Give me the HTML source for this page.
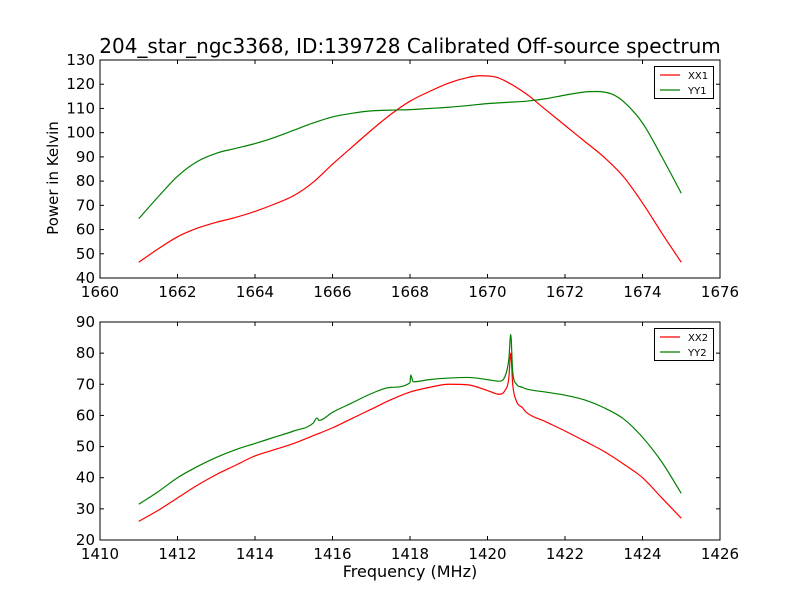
<!DOCTYPE html>
<html><head><meta charset="utf-8"><style>
body{margin:0;background:#fff}
svg{font-family:"DejaVu Sans","Liberation Sans",sans-serif}
</style></head><body>
<svg id="c" width="800" height="600" viewBox="0 0 800 600">
<rect width="800" height="600" fill="#fff"/>
<text x="410" y="53" font-size="20" text-anchor="middle">204_star_ngc3368, ID:139728 Calibrated Off-source spectrum</text>
<g id="top"></g>
<g id="bot"></g>
<text x="58" y="178" font-size="15" text-anchor="middle" transform="rotate(-90 58 178)">Power in Kelvin</text>
<text x="410" y="577" font-size="16" text-anchor="middle">Frequency (MHz)</text>
</svg>
<script>
const topX=[1661,1661.5,1662,1662.5,1663,1663.5,1664,1664.5,1665,1665.5,1666,1666.5,1667,1667.5,1668,1668.5,1669,1669.5,1669.8,1670.2,1670.5,1671,1671.5,1672,1672.5,1673,1673.5,1674,1674.5,1675];
const xx1=[46.5,52,57,60.5,63,65,67.5,70.5,74,79.5,87,94,101,107.5,113,117,120.5,122.8,123.5,123,121,116,109.5,103,96.5,90,82,71,58.5,46.5];
const topX2=[1661,1661.5,1662,1662.5,1663,1663.5,1664,1664.5,1665,1665.5,1666,1666.5,1667,1667.5,1668,1668.5,1669,1669.5,1670,1670.5,1671,1671.5,1672,1672.5,1672.8,1673.2,1673.5,1674,1674.5,1675];
const yy1=[64.5,73.5,82,88,91.5,93.5,95.5,98,101,104,106.5,108,109,109.3,109.5,110,110.5,111.2,112,112.5,113,114,115.5,116.8,117,116,113,104,90,75];
const botX=[1411,1411.5,1412,1412.5,1413,1413.5,1414,1414.5,1415,1415.5,1416,1416.5,1417,1417.5,1418,1418.5,1419,1419.5,1420,1420.3,1420.45,1420.55,1420.6,1420.65,1420.75,1420.9,1421,1421.5,1422,1422.5,1423,1423.5,1424,1424.5,1425];
const xx2=[26,29.5,33.5,37.5,41,44,47,49,51,53.5,56,59,62,65,67.5,69,70,69.8,68,66.8,68,72,80,70,64.5,62.5,61,58,55,51.8,48.5,44.5,40,33.5,27];
const botY2X=[1411,1411.5,1412,1412.5,1413,1413.5,1414,1414.5,1415,1415.5,1415.6,1415.65,1416,1416.5,1417,1417.5,1418,1418.02,1418.08,1418.5,1419,1419.5,1420,1420.3,1420.45,1420.55,1420.6,1420.65,1420.75,1420.9,1421,1421.5,1422,1422.5,1423,1423.5,1424,1424.5,1425];
const yy2=[31.5,35.5,40,43.5,46.5,49,51,53,55,57.5,59.2,58.4,61,64,67,69,70.5,73,70.8,71.5,72,72.2,71.5,71,72.5,78,86,74,70,69,68.5,67.5,66.5,65,62.5,59,53,45,35];
const topXTicks=[1660,1662,1664,1666,1668,1670,1672,1674,1676];
const topYTicks=[40,50,60,70,80,90,100,110,120,130];
const botXTicks=[1410,1412,1414,1416,1418,1420,1422,1424,1426];
const botYTicks=[20,30,40,50,60,70,80,90];
const NS="http://www.w3.org/2000/svg";
function mk(p,t,a){const e=document.createElementNS(NS,t);for(const k in a)e.setAttribute(k,a[k]);p.appendChild(e);return e;}
function monoPath(P){
  const n=P.length,d=[],m=[];
  for(let i=0;i<n-1;i++)d.push((P[i+1][1]-P[i][1])/(P[i+1][0]-P[i][0]));
  m[0]=d[0];m[n-1]=d[n-2];
  for(let i=1;i<n-1;i++){m[i]=(d[i-1]*d[i]<=0)?0:(d[i-1]+d[i])/2;}
  for(let i=0;i<n-1;i++){if(d[i]===0){m[i]=0;m[i+1]=0;continue;}
    const a=m[i]/d[i],b=m[i+1]/d[i],s=a*a+b*b;if(s>9){const t=3/Math.sqrt(s);m[i]=t*a*d[i];m[i+1]=t*b*d[i];}}
  let s='M'+P[0][0]+','+P[0][1];
  for(let i=0;i<n-1;i++){const h=(P[i+1][0]-P[i][0])/3;
    s+=' C'+(P[i][0]+h)+','+(P[i][1]+m[i]*h)+' '+(P[i+1][0]-h)+','+(P[i+1][1]-m[i+1]*h)+' '+P[i+1][0]+','+P[i+1][1];}
  return s;
}
function panel(g,y0,y1,xmin,xmax,ymin,ymax,xt,yt,series,labels){
  const L=100,R=720;
  const sx=v=>L+(v-xmin)/(xmax-xmin)*(R-L), sy=v=>y1-(v-ymin)/(ymax-ymin)*(y1-y0);
  series.forEach((s,i)=>{
    const pl=mk(g,'path',{d:monoPath(s.x.map((v,j)=>[sx(v),sy(s.y[j])])),fill:'none',stroke:s.c,'stroke-width':1.2});
    
    
  });
  const fr=mk(g,'rect',{x:L,y:y0,width:R-L,height:y1-y0,fill:'none',stroke:'#000','stroke-width':1});
  
  
  xt.forEach(v=>{const x=sx(v);
    mk(g,'line',{x1:x,x2:x,y1:y1,y2:y1-4,stroke:'#000'});mk(g,'line',{x1:x,x2:x,y1:y0,y2:y0+4,stroke:'#000'});
    const t=mk(g,'text',{x:x,y:y1+19,'font-size':15,'text-anchor':'middle'});t.textContent=v;
    
    });
  yt.forEach(v=>{const y=sy(v);
    mk(g,'line',{x1:L,x2:L+4,y1:y,y2:y,stroke:'#000'});mk(g,'line',{x1:R,x2:R-4,y1:y,y2:y,stroke:'#000'});
    const t=mk(g,'text',{x:L-5,y:y+5,'font-size':15,'text-anchor':'end'});t.textContent=v;
    
    });
  const lg=mk(g,'g',{});
  
  
  mk(lg,'rect',{x:654.5,y:y0+6.5,width:59,height:32,fill:'#fff',stroke:'#000'});
  series.forEach((s,i)=>{const yy=y0+15+i*15;
    mk(lg,'line',{x1:660,x2:680,y1:yy,y2:yy,stroke:s.c,'stroke-width':1.2});
    const t=mk(lg,'text',{x:688,y:yy+4,'font-size':10});t.textContent=labels[i];
    
    });
}
panel(document.getElementById('top'),60,278,1660,1676,40,130,topXTicks,topYTicks,
  [{x:topX,y:xx1,c:'#ff0000'},{x:topX2,y:yy1,c:'#008000'}],['XX1','YY1']);
panel(document.getElementById('bot'),322,540,1410,1426,20,90,botXTicks,botYTicks,
  [{x:botX,y:xx2,c:'#ff0000'},{x:botY2X,y:yy2,c:'#008000'}],['XX2','YY2']);
</script>
</body></html>
